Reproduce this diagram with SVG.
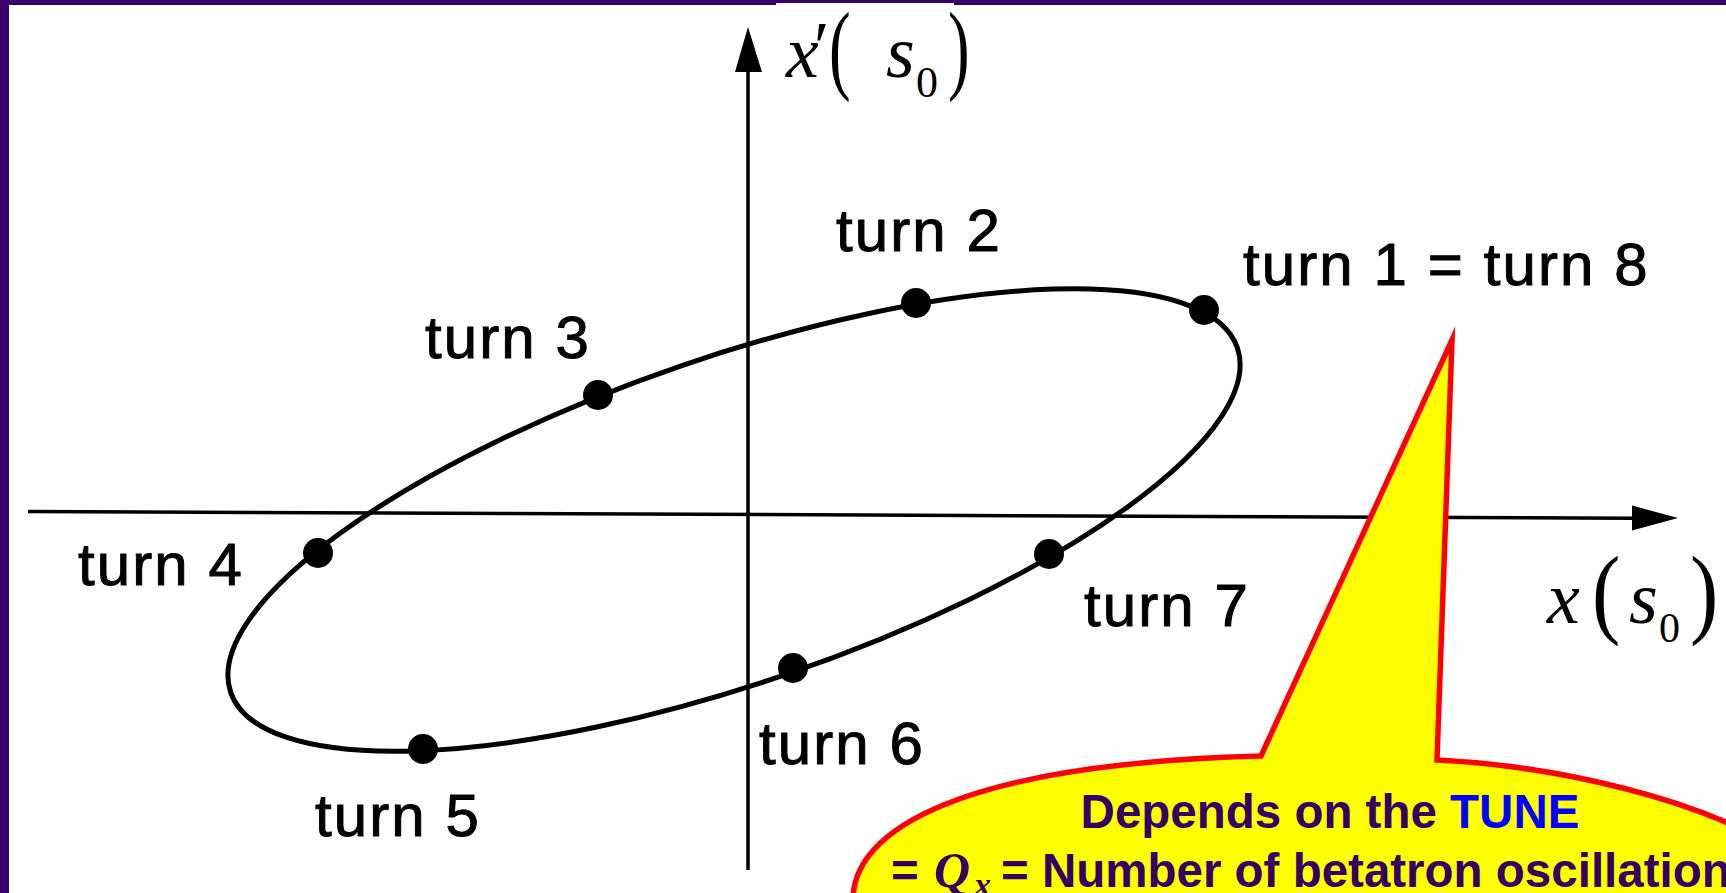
<svg xmlns="http://www.w3.org/2000/svg" width="1726" height="893" viewBox="0 0 1726 893">
<defs>
<style>
.lbl{font-family:"Liberation Sans",Arial,sans-serif;font-size:60px;letter-spacing:2.1px;fill:#000;stroke:#000;stroke-width:1px}
.math{font-family:"Liberation Serif","Times New Roman",serif;fill:#000}
.it{font-style:italic}
.axis{stroke:#000;stroke-width:3.5;fill:none}
.dot{fill:#000}
.co{font-family:"Liberation Sans",Arial,sans-serif;font-weight:bold;font-size:47.5px;fill:#330066}
</style>
</defs>
<rect width="1726" height="893" fill="#fff"/>
<rect x="0" y="0" width="1726" height="5" fill="#3c006a"/>
<rect x="0" y="0" width="9" height="893" fill="#3c006a"/>
<rect x="776" y="3" width="178" height="3" fill="#fff"/>

<g id="axes">
  <line class="axis" x1="28" y1="511.6" x2="1634" y2="518.2"/>
  <polygon points="1632,505.5 1678,518 1632,530.5" fill="#000"/>
  <line class="axis" x1="748" y1="870" x2="748" y2="70"/>
  <polygon points="735,72 748,27 762,72" fill="#000"/>
</g>

<g id="connectors">
  <ellipse id="orbit" cx="734" cy="520" rx="532" ry="163" transform="rotate(-18.9 734 520)" fill="none" stroke="#000" stroke-width="5"/>
</g>

<g id="turn1"><circle class="dot" cx="1204" cy="310" r="15"/><text class="lbl" x="1243" y="285">turn 1 = turn 8</text></g>
<g id="turn2"><circle class="dot" cx="916" cy="303" r="15"/><text class="lbl" x="836" y="251">turn 2</text></g>
<g id="turn3"><circle class="dot" cx="598" cy="395" r="15"/><text class="lbl" x="425" y="358">turn 3</text></g>
<g id="turn4"><circle class="dot" cx="318" cy="553" r="15"/><text class="lbl" x="78" y="585">turn 4</text></g>
<g id="turn5"><circle class="dot" cx="423" cy="749" r="15"/><text class="lbl" x="315" y="836">turn 5</text></g>
<g id="turn6"><circle class="dot" cx="793" cy="668" r="15"/><text class="lbl" x="759" y="764">turn 6</text></g>
<g id="turn7"><circle class="dot" cx="1049" cy="554" r="15"/><text class="lbl" x="1084" y="626">turn 7</text></g>

<g id="label-xprime" class="math">
  <text class="it" x="786" y="77" font-size="74">x</text>
  <text x="814" y="70" font-size="70">′</text>
  <text transform="translate(829,81) scale(0.65,1)" font-size="100">(</text>
  <text class="it" x="886" y="77" font-size="74">s</text>
  <text x="916" y="97" font-size="44">0</text>
  <text transform="translate(948,81) scale(0.65,1)" font-size="100">)</text>
</g>

<g id="label-x" class="math">
  <text class="it" x="1547" y="623" font-size="74">x</text>
  <text transform="translate(1592,625) scale(0.85,1)" font-size="100">(</text>
  <text class="it" x="1629" y="623" font-size="74">s</text>
  <text x="1659" y="642" font-size="42">0</text>
  <text transform="translate(1690,625) scale(0.85,1)" font-size="100">)</text>
</g>

<g id="callout">
  <path d="M1261,756 L1452,340 L1437,760 C1560,766 1700,800 1780,850 L1780,900 L853,900 C853,830 960,764 1261,756 Z" fill="#ffff00" stroke="#ff0000" stroke-width="5.5" stroke-linejoin="miter" stroke-miterlimit="12"/>
  <text class="co" x="1330" y="828" text-anchor="middle">Depends on the <tspan fill="#0000ff">TUNE</tspan></text>
  <text class="co" y="887"><tspan x="891">=</tspan><tspan x="934" font-family="Liberation Serif,serif" font-style="italic" font-size="50">Q</tspan><tspan x="974" y="896" font-family="Liberation Serif,serif" font-style="italic" font-size="34">x</tspan><tspan x="1001" y="887">= Number of betatron oscillation</tspan></text>
</g>
</svg>
